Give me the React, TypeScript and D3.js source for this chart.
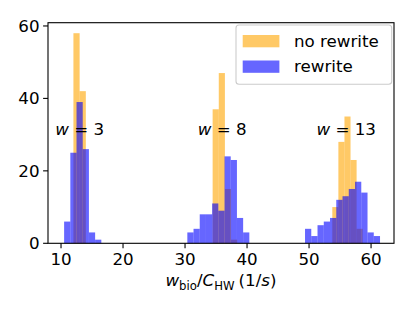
import * as d3 from 'd3'

// histogram bins per window size: left edge, bin width, counts
const windows = [3, 8, 13]
const labelX = [13, 36, 56]
const noRewriteStart = [12.0, 34.45, 53.75]
const noRewriteWidth = [1.0, 0.99, 0.98]
const noRewriteCounts = [
  [58, 42],
  [37, 47, 15, 1],
  [10, 28, 35, 23, 4],
]
const rewriteStart = [10.5, 30.37, 49.35]
const rewriteWidth = [1.0, 1.0, 1.008]
const rewriteCounts = [
  [6, 25, 39, 26, 3, 1],
  [3, 4, 8, 8, 11, 9, 24, 23, 7, 3],
  [4, 2, 5, 6, 7, 12, 13, 15, 17, 14, 3, 2],
]
const xTicks = [10, 20, 30, 40, 50, 60]
const yTicks = [0, 20, 40, 60]

const W = 415
const H = 311
const m = { left: 48, right: 394, top: 22.7, bottom: 243.3 }
const font = 'DejaVu Sans, sans-serif'
const fs = 16.7
const orange = '#FFA500'
const blue = '#0000FF'

type Bar = { x0: number; x1: number; n: number }

function toBars(start: number[], width: number[], counts: number[][]): Bar[] {
  const out: Bar[] = []
  counts.forEach((cs, g) => {
    cs.forEach((n, i) => {
      out.push({ x0: start[g] + i * width[g], x1: start[g] + (i + 1) * width[g], n })
    })
  })
  return out
}

export default function App() {
  const x = d3.scaleLinear().domain([7.9, 63.7]).range([m.left, m.right])
  const y = d3.scaleLinear().domain([0, 60.9]).range([m.bottom, m.top])

  const orangeBars = toBars(noRewriteStart, noRewriteWidth, noRewriteCounts)
  const blueBars = toBars(rewriteStart, rewriteWidth, rewriteCounts)

  const drawBars = (bars: Bar[], color: string, key: string) =>
    bars.map((b, i) => (
      <rect
        key={key + i}
        x={x(b.x0)}
        y={y(b.n)}
        width={x(b.x1) - x(b.x0)}
        height={y(0) - y(b.n)}
        fill={color}
        fillOpacity={0.6}
      />
    ))

  return (
    <svg
      width={W}
      height={H}
      style={{ position: 'absolute', left: 0, top: 0, background: '#fff' }}
      fontFamily={font}
    >
      <rect width={W} height={H} fill="#fff" />
      {drawBars(orangeBars, orange, 'o')}
      {drawBars(blueBars, blue, 'b')}

      {windows.map((w, i) => (
        <text key={w} x={x(labelX[i])} y={y(30)} fontSize={fs} textAnchor="middle" fill="#000">
          <tspan fontStyle="italic">w</tspan>
          <tspan>{' = ' + w}</tspan>
        </text>
      ))}

      {/* axes frame */}
      <rect
        x={m.left}
        y={m.top}
        width={m.right - m.left}
        height={m.bottom - m.top}
        fill="none"
        stroke="#000"
        strokeWidth={1.1}
      />

      {xTicks.map((t) => (
        <g key={'x' + t} transform={`translate(${x(t)},${m.bottom})`}>
          <line y2={4.9} stroke="#000" strokeWidth={1.1} />
          <text y={21.5} fontSize={fs} textAnchor="middle" fill="#000">
            {t}
          </text>
        </g>
      ))}
      {yTicks.map((t) => (
        <g key={'y' + t} transform={`translate(${m.left},${y(t)})`}>
          <line x2={-4.9} stroke="#000" strokeWidth={1.1} />
          <text x={-8.5} dy="0.36em" fontSize={fs} textAnchor="end" fill="#000">
            {t}
          </text>
        </g>
      ))}

      <text x={(m.left + m.right) / 2} y={286} fontSize={fs} textAnchor="middle" fill="#000">
        <tspan fontStyle="italic">w</tspan>
        <tspan fontSize={fs * 0.7} dy={4}>bio</tspan>
        <tspan dy={-4}>/</tspan>
        <tspan fontStyle="italic">C</tspan>
        <tspan fontSize={fs * 0.7} dy={4}>HW</tspan>
        <tspan dy={-4} dx={4}>(1/</tspan>
        <tspan fontStyle="italic">s</tspan>
        <tspan>)</tspan>
      </text>

      {/* legend */}
      <rect x={236} y={25} width={155.7} height={59.3} rx={3} fill="#fff" fillOpacity={0.8} stroke="#ccc" strokeWidth={1.1} />
      <rect x={242.7} y={35} width={36.7} height={12.3} fill={orange} fillOpacity={0.6} />
      <rect x={242.7} y={60.5} width={36.7} height={12.3} fill={blue} fillOpacity={0.6} />
      <text x={294} y={46.7} fontSize={fs} fill="#000">no rewrite</text>
      <text x={294} y={72.3} fontSize={fs} fill="#000">rewrite</text>
    </svg>
  )
}
